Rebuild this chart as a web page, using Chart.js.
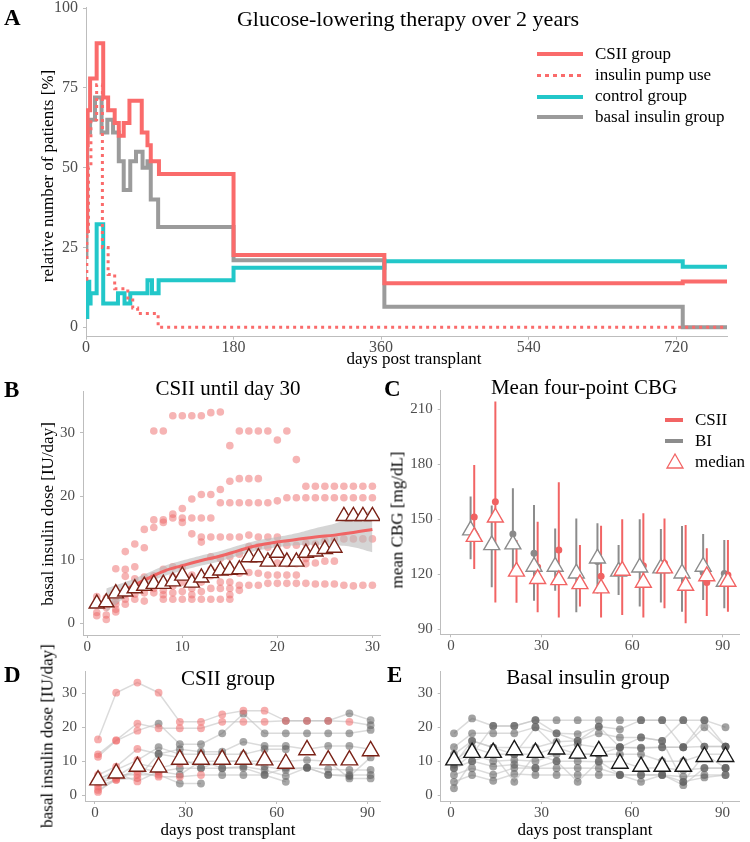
<!DOCTYPE html>
<html>
<head>
<meta charset="utf-8">
<script src="https://cdn.jsdelivr.net/npm/chart.js@4.4.1/dist/chart.umd.min.js"></script>
<style>
body { margin: 0; background: #fff; }
#page { position: relative; width: 750px; height: 842px; overflow: hidden; font-family: "Liberation Serif", "Times New Roman", serif; }
canvas { position: absolute; }
.t { position: absolute; white-space: nowrap; line-height: 1; color: #000; }
.c { transform: translateX(-50%); }
.r { transform: translate(-50%, -50%) rotate(-90deg); }
.lt { font-weight: bold; font-size: 23px; }
.ti { font-size: 21px; }
.ax { font-size: 17px; }
.sw { position: absolute; height: 4px; }
</style>
</head>
<body>
<div id="page">
  <canvas id="chA"></canvas>
  <canvas id="chB"></canvas>
  <canvas id="chC"></canvas>
  <canvas id="chD"></canvas>
  <canvas id="chE"></canvas>

  <div class="t lt" style="left:4px;top:6px">A</div>
  <div class="t c" style="left:408px;top:8px;font-size:22px">Glucose-lowering therapy over 2 years</div>
  <div class="sw" style="left:537px;top:52px;width:46px;background:#fa6b6b"></div>
  <div class="sw" style="left:537px;top:74px;width:46px;height:3px;background:repeating-linear-gradient(90deg,#fa6b6b 0 4px,transparent 4px 8px)"></div>
  <div class="sw" style="left:537px;top:95px;width:46px;background:#22c7c9"></div>
  <div class="sw" style="left:537px;top:115px;width:46px;background:#9b9b9b"></div>
  <div class="t ax" style="left:595px;top:45px">CSII group</div>
  <div class="t ax" style="left:595px;top:66px">insulin pump use</div>
  <div class="t ax" style="left:595px;top:87px">control group</div>
  <div class="t ax" style="left:595px;top:108px">basal insulin group</div>
  <div class="t ax r" style="left:47px;top:176px">relative number of patients [%]</div>
  <div class="t ax c" style="left:414px;top:350px">days post transplant</div>

  <div class="t lt" style="left:4px;top:378px">B</div>
  <div class="t ti c" style="left:228px;top:378px">CSII until day 30</div>
  <div class="t ax r" style="left:47px;top:514px">basal insulin dose [IU/day]</div>

  <div class="t lt" style="left:384px;top:377px">C</div>
  <div class="t ti c" style="left:584px;top:377px">Mean four-point CBG</div>
  <div class="sw" style="left:665px;top:418px;width:18px;background:#f26464"></div>
  <div class="sw" style="left:665px;top:439px;width:18px;background:#8c8c8c"></div>
  <svg style="position:absolute;left:665px;top:452px" width="20" height="18"><polygon points="10,2 18,16 2,16" fill="#fff" stroke="#f26464" stroke-width="1.3"/></svg>
  <div class="t ax" style="left:695px;top:411px">CSII</div>
  <div class="t ax" style="left:695px;top:432px">BI</div>
  <div class="t ax" style="left:695px;top:453px">median</div>
  <div class="t ax r" style="left:397px;top:520px">mean CBG [mg/dL]</div>

  <div class="t lt" style="left:4px;top:663px">D</div>
  <div class="t ti c" style="left:228px;top:668px">CSII group</div>
  <div class="t ax c" style="left:228px;top:821px">days post transplant</div>
  <div class="t ax r" style="left:47px;top:736px">basal insulin dose [IU/day]</div>

  <div class="t lt" style="left:387px;top:663px">E</div>
  <div class="t ti c" style="left:588px;top:667px">Basal insulin group</div>
  <div class="t ax c" style="left:585px;top:821px">days post transplant</div>
</div>

<script>
// ---- A: therapy over 2 years (step lines) ----
const aCsiiDays  = [0, 1, 2, 5, 13, 21, 27, 35, 40, 46, 53, 68, 75, 79, 89, 180, 364, 728, 782];
const aCsiiPct   = [30, 57, 68, 78, 89, 72, 68, 64, 60, 64, 71, 61, 57, 52, 48, 22.6, 13.8, 14.3, 14.3];
const aPumpDays  = [0, 1, 3, 6, 13, 20, 27, 35, 51, 57, 63, 88, 782];
const aPumpPct   = [15, 30, 50, 65, 76, 25, 16.5, 12, 8.5, 6, 4.3, 0, 0];
const aCtrlDays  = [0, 1.6, 4, 5.6, 13, 21, 39, 47, 54, 75, 80.5, 88.6, 180, 364, 728, 782];
const aCtrlPct   = [3.2, 14.2, 7.4, 10.6, 32.3, 7.4, 10.6, 7.4, 10.6, 14.7, 10.6, 14.7, 18.6, 20.7, 18.9, 18.9];
const aBasalDays = [0, 0.5, 1.5, 5, 11, 19, 26, 33, 40, 46, 54, 61, 69, 75, 79, 88, 180, 364, 728, 782];
const aBasalPct  = [22, 31, 61, 65, 72, 61, 65, 61, 52, 43, 52, 55, 50, 52, 40, 31.4, 21, 6.4, 0, 0];
const aXTicks = [0, 180, 360, 540, 720];
const aYTicks = [0, 25, 50, 75, 100];

// ---- B: CSII until day 30 ----
const bDays = [1,2,3,4,5,6,7,8,9,10,11,12,13,14,15,16,17,18,19,20,21,22,23,24,25,26,27,28,29,30];
const bDoses = [
  [4.2, 3.5, 2.9, 1.7, 1.2],
  [4.0, 3.2, 2.5, 1.3, 0.6],
  [8.6, 4.2, 3.5, 3.0, 2.2, 1.8],
  [11.3, 8.5, 7.4, 5.2, 4.6, 3.8, 3.0],
  [12.5, 8.9, 7.0, 5.5, 4.6, 3.8],
  [14.8, 11.9, 7.3, 6.5, 5.8, 4.8, 3.5],
  [30.3, 16.3, 15.1, 7.5, 6.5, 5.5, 4.8],
  [30.3, 16.3, 15.9, 8.5, 6.5, 5.2, 4.5, 3.8],
  [32.7, 17.2, 16.6, 8.9, 7.3, 5.9, 4.8, 3.8],
  [32.7, 18.1, 16.6, 15.9, 8.8, 7.5, 6.5, 5.0, 3.8],
  [32.7, 19.6, 16.6, 14.1, 7.6, 6.5, 5.5, 4.5, 3.8],
  [32.7, 20.3, 16.6, 13.6, 12.8, 7.5, 6.5, 5.0, 3.8],
  [33.2, 20.3, 16.6, 13.6, 10.5, 8.5, 7.5, 5.5, 3.8],
  [33.3, 21.1, 19.0, 13.6, 10.2, 8.0, 6.5, 5.5, 3.8],
  [28.0, 22.4, 19.0, 13.6, 10.5, 8.0, 6.5, 5.5, 4.5, 3.8],
  [30.3, 22.8, 19.0, 13.6, 10.9, 7.9, 6.0, 5.2],
  [30.3, 22.8, 19.0, 13.9, 12.1, 10.2, 8.0, 6.0],
  [30.3, 22.8, 19.0, 13.6, 12.1, 10.5, 7.9, 6.0],
  [30.3, 19.0, 13.6, 12.0, 9.5, 7.6, 6.3],
  [28.9, 19.3, 13.6, 12.3, 9.5, 7.6, 6.3],
  [30.3, 19.8, 12.3, 9.4, 7.6, 6.3],
  [25.8, 19.8, 12.3, 9.4, 7.6, 6.3],
  [21.6, 19.8, 12.6, 10.2, 9.4, 6.3],
  [21.6, 19.8, 12.5, 11.0, 9.5, 6.2],
  [21.6, 19.8, 13.0, 11.5, 9.8, 6.2],
  [21.6, 19.8, 13.3, 12.0, 9.8, 6.2],
  [21.6, 19.8, 13.3, 6.0],
  [21.6, 19.8, 13.3, 5.9],
  [21.6, 19.8, 13.3, 6.0],
  [21.6, 19.8, 13.3, 6.0]
];
const bMedian = [3.1, 3.3, 4.7, 5.0, 5.5, 5.9, 6.2, 6.2, 6.6, 7.5, 6.4, 7.2, 7.9, 8.3, 8.4, 8.5, 10.4, 10.4, 9.7, 11.1, 9.7, 9.7, 11.1, 11.3, 11.7, 11.9, 16.9, 16.9, 16.9, 16.9];
const bSmoothDays = [2, 4, 6, 8, 10, 12, 14, 16, 18, 20, 22, 24, 26, 28, 30];
const bSmooth   = [3.8, 5.3, 6.8, 8.2, 9.1, 9.9, 10.6, 11.5, 12.3, 12.8, 13.2, 13.6, 13.9, 14.3, 14.8];
const bSmoothHi = [5.5, 6.5, 7.7, 9.0, 9.9, 10.7, 11.4, 12.3, 13.1, 13.6, 14.2, 15.0, 15.7, 16.7, 17.9];
const bSmoothLo = [1.8, 4.1, 5.9, 7.4, 8.3, 9.1, 9.8, 10.7, 11.5, 12.0, 12.3, 12.4, 12.3, 12.0, 11.2];
const bXTicks = [0, 10, 20, 30];
const bYTicks = [0, 10, 20, 30];

// ---- C: mean four-point CBG ----
const cWeeks = [7, 14, 21, 28, 35, 42, 49, 56, 63, 70, 77, 84, 91];
const cBiHigh    = [162.4, 157.5, 166.9, 157.8, 145.0, 150.5, 147.8, 136.0, 150.0, 144.7, 146.4, 142.0, 138.7];
const cBiLow     = [128.2, 112.9, 122.0, 105.6, 111.0, 99.3, 109.6, 108.7, 102.4, 104.7, 99.6, 106.0, 101.5];
const cBiMean    = [145.0, 135.0, 142.0, 131.5, 123.0, 121.0, 127.0, 121.0, 124.7, 123.0, 120.5, 121.0, 120.5];
const cBiMedian  = [144.0, 136.0, 136.4, 124.2, 124.2, 120.5, 128.7, 121.5, 123.8, 123.3, 120.5, 124.2, 116.0];
const cCsiiHigh  = [179.6, 214.2, 138.7, 148.7, 170.2, 136.0, 146.5, 150.0, 153.3, 150.5, 146.9, 134.2, 138.7];
const cCsiiLow   = [122.9, 104.7, 104.5, 99.3, 96.4, 102.4, 96.5, 97.8, 96.5, 101.5, 93.3, 97.3, 99.6];
const cCsiiMean  = [151.3, 159.6, 121.0, 124.0, 133.3, 115.0, 119.0, 122.0, 124.7, 126.0, 114.0, 115.5, 119.6];
const cCsiiMedian = [140.5, 151.0, 121.5, 117.5, 116.9, 114.7, 112.4, 122.0, 115.5, 123.3, 113.8, 119.0, 116.0];
const cXTicks = [0, 30, 60, 90];
const cYTicks = [90, 120, 150, 180, 210];

// ---- D: CSII group, per patient (red while on pump) ----
const dDays = [1, 7, 14, 21, 28, 35, 42, 49, 56, 63, 70, 77, 84, 91];
const dPatients = [
  [16.4, 30.2, 33.2, 30.2, 21.6, 21.6, 23.8, 24.9, 24.9, 21.9, 21.9, 21.9, 24.1, 22.1],
  [12.0, 16.2, 21.1, 19.7, 19.7, 19.7, 21.6, 21.6, 21.6, 21.9, 21.9, 21.9, 21.6, 20.6],
  [11.3, 16.0, 19.0, 21.1, 15.0, 15.0, 18.2, 24.0, 18.2, 18.2, 18.2, 18.2, 18.2, 19.2],
  [5.9, 8.4, 13.6, 12.1, 13.5, 12.8, 12.8, 15.7, 14.5, 14.5, 13.5, 14.5, 14.5, 13.5],
  [4.4, 7.4, 10.3, 14.1, 12.0, 12.0, 12.0, 12.0, 13.5, 13.5, null, null, null, null],
  [3.4, 5.4, 9.3, 8.0, 9.3, 10.0, 10.0, 10.0, 8.4, 7.4, 8.1, 7.6, 7.4, 7.4],
  [1.5, 4.4, 8.0, 6.9, 7.9, 7.9, 7.9, 8.4, 7.4, 5.6, 8.1, 5.9, 5.9, 5.9],
  [0.9, 5.0, 7.0, 5.4, 5.4, 5.9, 5.9, 5.9, 5.9, 3.9, null, null, null, null],
  [4.0, 6.0, 6.0, 6.0, 3.4, 3.4, null, null, null, null, null, null, null, null],
  [2.5, 4.6, 5.0, 12.1, 11.1, 8.0, 10.0, 10.0, 10.0, 10.0, 10.3, 10.0, 4.9, 4.9],
  [4.8, 6.5, 4.0, 7.0, 6.0, 10.0, 8.0, 8.0, 6.0, 8.0, 8.0, 6.0, 5.5, 11.1]
];
const dRedCount = [9, 13, 3, 3, 3, 5, 3, 6, 4, 3, 4];
const dMedian = [4.4, 6.4, 8.4, 8.2, 10.5, 10.5, 10.5, 10.5, 10.3, 9.3, 13.3, 10.3, 10.3, 13.0];

// ---- E: basal insulin group, per patient ----
const eDays = [1, 7, 14, 21, 28, 35, 42, 49, 56, 63, 70, 77, 84, 91];
const ePatients = [
  [18.2, 22.6, 20.4, 20.4, 22.1, 22.1, 22.1, 22.1, 22.1, 22.1, 22.1, 22.1, 22.1, 20.0],
  [14.1, 18.2, 18.2, 18.2, 20.0, 18.2, 18.0, 20.2, 19.4, 22.1, 22.1, 14.1, 20.0, 14.3],
  [12.0, 16.0, 14.0, 14.0, 14.0, 15.7, 16.0, 18.2, 17.0, 17.0, 16.0, 22.1, 14.3, 14.3],
  [10.0, 14.1, 12.0, 12.0, 12.0, 14.0, 15.0, 14.0, 14.1, 13.8, 14.1, 14.1, 14.3, 14.3],
  [8.0, 12.0, 10.0, 10.3, 10.0, 12.0, 12.0, 12.0, 12.0, 12.0, 10.0, 10.0, 12.0, 12.0],
  [7.9, 10.0, 8.4, 9.0, 8.0, 10.0, 10.0, 9.8, 10.0, 8.0, 8.0, 7.4, 7.9, 7.9],
  [5.9, 7.9, 6.0, 8.0, 7.9, 7.9, 8.0, 7.9, 5.9, 5.9, 5.9, 5.4, 5.9, 5.9],
  [3.9, 5.9, 4.2, 6.2, 5.9, 5.9, 5.9, 5.9, 5.9, 3.9, 5.9, 3.9, 5.2, 5.9],
  [2.0, 10.0, 12.0, 3.9, 12.0, 10.0, 3.9, 10.0, 6.0, 5.9, 6.0, 2.9, 8.0, 8.0],
  [10.0, 12.0, 20.4, 20.4, 22.1, 18.2, 16.0, 20.2, 14.1, 14.0, 14.1, 14.1, 22.1, 14.3],
  [9.0, 16.0, 14.0, 12.0, 20.0, 14.0, 12.0, 12.0, 14.1, 17.0, 16.0, 3.9, 12.0, 8.0]
];
const eMedian = [10.3, 12.5, 12.5, 13.3, 12.5, 13.5, 12.3, 13.0, 9.3, 8.4, 8.4, 8.4, 11.3, 11.3];
const deXTicks = [0, 30, 60, 90];
const deYTicks = [0, 10, 20, 30];

// ---- styling / layout ----
const SERIF = '"Liberation Serif", "Times New Roman", serif';
const AXIS = '#bdbdbd';
const TICK = '#4d4d4d';
const RED = '#fa6b6b';
const CYAN = '#22c7c9';
const GRAY = '#9b9b9b';
const YW = 45, XH = 24;

function xy(xs, ys) { return xs.map((x, i) => ({ x: x, y: ys[i] })); }

function scale(min, max, ticks, size, vertical, pad) {
  return {
    type: 'linear', min: min, max: max,
    afterBuildTicks: s => { s.ticks = ticks.map(v => ({ value: v })); },
    afterFit: s => { if (vertical) s.width = YW; else s.height = XH; },
    grid: { display: true, drawOnChartArea: false, drawTicks: true, tickLength: 3, color: AXIS },
    border: { display: true, color: AXIS, width: 1 },
    ticks: { color: TICK, font: { family: SERIF, size: size }, padding: pad, maxRotation: 0, autoSkip: false }
  };
}

function panel(id, box, area, xScale, yScale, datasets) {
  const c = document.getElementById(id);
  c.width = box.r - box.l;
  c.height = box.b - box.t;
  c.style.left = box.l + 'px';
  c.style.top = box.t + 'px';
  return new Chart(c, {
    type: 'line',
    data: { datasets: datasets },
    options: {
      responsive: false, animation: false, devicePixelRatio: 1,
      layout: { padding: { left: area.l - box.l - YW, top: area.t - box.t, right: box.r - area.r, bottom: box.b - area.b - XH } },
      plugins: { legend: { display: false }, tooltip: { enabled: false } },
      elements: { point: { radius: 0 }, line: { tension: 0 } },
      scales: { x: xScale, y: yScale }
    }
  });
}

function pts(xs, vals, color, r, order) {
  return { data: xy(xs, vals), showLine: false, pointRadius: r, pointBackgroundColor: color, pointBorderWidth: 0, order: order };
}
function tri(xs, vals, stroke, r, order) {
  return { data: xy(xs, vals), showLine: false, pointStyle: 'triangle', pointRadius: r,
    pointBackgroundColor: '#ffffff', pointBorderColor: stroke, pointBorderWidth: 1.4, order: order };
}
function ranges(xs, lo, hi) {
  const out = [];
  xs.forEach((x, i) => { out.push({ x: x, y: lo[i] }, { x: x, y: hi[i] }, { x: x, y: null }); });
  return out;
}

// A
panel('chA', { l: 0, t: -10, r: 750, b: 372 }, { l: 86, t: 7.3, r: 727, b: 336.7 },
  scale(0, 782, aXTicks, 16, false, -2), scale(-3, 100.3, aYTicks, 16, true, 5), [
    { data: xy(aCsiiDays, aCsiiPct), borderColor: RED, borderWidth: 4, stepped: true, order: 0 },
    { data: xy(aPumpDays, aPumpPct), borderColor: RED, borderWidth: 3, borderDash: [3, 4], stepped: true, order: 1 },
    { data: xy(aCtrlDays, aCtrlPct), borderColor: CYAN, borderWidth: 4, stepped: true, order: 2 },
    { data: xy(aBasalDays, aBasalPct), borderColor: GRAY, borderWidth: 4, stepped: true, order: 3 }
  ]);

// B
const bPoints = [];
bDays.forEach((d, i) => bDoses[i].forEach(v => bPoints.push({ x: d, y: v })));
panel('chB', { l: 0, t: 375, r: 395, b: 660 }, { l: 83, t: 391.7, r: 380, b: 635 },
  scale(-0.45, 30.8, bXTicks, 15, false, 0), scale(-1.84, 36.5, bYTicks, 15, true, 5), [
    tri(bDays, bMedian, '#7a2217', 8.8, 0),
    { data: xy(bSmoothDays, bSmooth), borderColor: '#f06464', borderWidth: 3, tension: 0.4, order: 1 },
    { data: xy(bSmoothDays, bSmoothHi), borderWidth: 0, borderColor: 'rgba(0,0,0,0)', tension: 0.4,
      fill: '+1', backgroundColor: 'rgba(185,185,185,0.6)', order: 2 },
    { data: xy(bSmoothDays, bSmoothLo), borderWidth: 0, borderColor: 'rgba(0,0,0,0)', tension: 0.4, order: 3 },
    { data: bPoints, showLine: false, pointRadius: 3.8, pointBackgroundColor: 'rgba(238,105,105,0.5)', pointBorderWidth: 0, order: 4 }
  ]);

// C
const cBiX = cWeeks.map(w => w - 0.5);
const cCsiiX = cWeeks.map(w => w + 0.7);
panel('chC', { l: 370, t: 375, r: 750, b: 660 }, { l: 440.7, t: 390, r: 741, b: 634.3 },
  scale(-3.4, 95.5, cXTicks, 15, false, 0), scale(87.3, 220.5, cYTicks, 15, true, 5), [
    tri(cCsiiX, cCsiiMedian, '#f26464', 9.2, 0),
    tri(cBiX, cBiMedian, '#8c8c8c', 9.2, 1),
    pts(cCsiiX, cCsiiMean, '#f06262', 3.5, 2),
    pts(cBiX, cBiMean, '#8a8a8a', 3.5, 3),
    { data: ranges(cCsiiX, cCsiiLow, cCsiiHigh), borderColor: '#f26464', borderWidth: 2, order: 4 },
    { data: ranges(cBiX, cBiLow, cBiHigh), borderColor: '#8c8c8c', borderWidth: 2, order: 5 }
  ]);

// D
const dSets = [tri(dDays, dMedian, '#7a2217', 9.5, 0)];
const dRed = [], dGray = [];
dPatients.forEach((p, k) => {
  dSets.push({ data: xy(dDays, p), borderColor: 'rgba(195,195,195,0.6)', borderWidth: 1.5, order: 3 });
  p.forEach((v, i) => { if (v !== null) (i < dRedCount[k] ? dRed : dGray).push({ x: dDays[i], y: v }); });
});
dSets.push({ data: dRed, showLine: false, pointRadius: 3.9, pointBackgroundColor: 'rgba(240,105,105,0.55)', pointBorderWidth: 0, order: 1 });
dSets.push({ data: dGray, showLine: false, pointRadius: 3.9, pointBackgroundColor: 'rgba(95,95,95,0.55)', pointBorderWidth: 0, order: 2 });
panel('chD', { l: 0, t: 655, r: 395, b: 830 }, { l: 85, t: 671.7, r: 380, b: 801 },
  scale(-3.3, 94.1, deXTicks, 15, false, 0), scale(-1.77, 36.4, deYTicks, 15, true, 5), dSets);

// E
const eSets = [tri(eDays, eMedian, '#1a1a1a', 9.5, 0)];
const ePts = [];
ePatients.forEach(p => {
  eSets.push({ data: xy(eDays, p), borderColor: 'rgba(195,195,195,0.6)', borderWidth: 1.5, order: 2 });
  p.forEach((v, i) => { if (v !== null) ePts.push({ x: eDays[i], y: v }); });
});
eSets.push({ data: ePts, showLine: false, pointRadius: 3.9, pointBackgroundColor: 'rgba(95,95,95,0.58)', pointBorderWidth: 0, order: 1 });
panel('chE', { l: 370, t: 655, r: 750, b: 830 }, { l: 440.7, t: 671.7, r: 741, b: 801 },
  scale(-3.4, 95.5, deXTicks, 15, false, 0), scale(-1.77, 36.4, deYTicks, 15, true, 5), eSets);
</script>
</body>
</html>
